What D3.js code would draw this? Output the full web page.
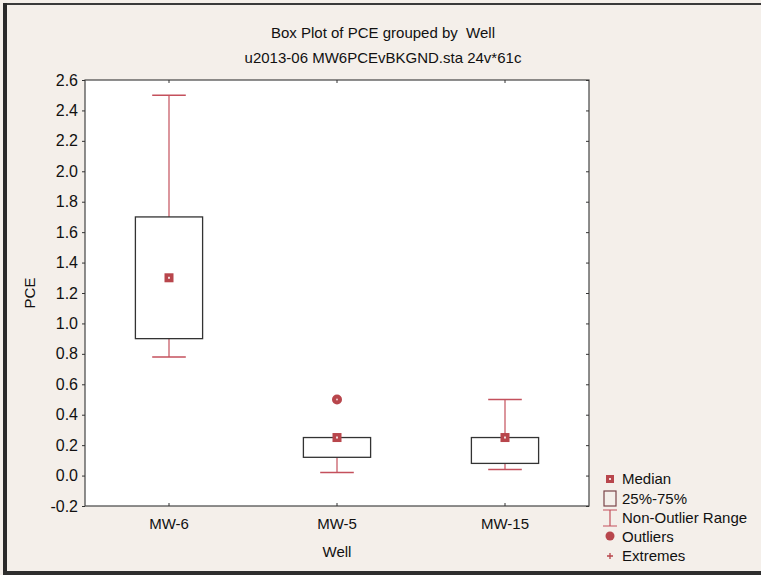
<!DOCTYPE html>
<html>
<head>
<meta charset="utf-8">
<script src="https://cdn.jsdelivr.net/npm/d3@7"></script>
<style>
  html, body { margin: 0; padding: 0; background: #f4efea; }
  svg { display: block; }
  text { font-family: "Liberation Sans", Arial, Helvetica, sans-serif; fill: #111; }
</style>
</head>
<body>
<svg id="chart" width="761" height="575"></svg>
<script>
// Box plot summary per well (PCE)
const wells      = ["MW-6", "MW-5", "MW-15"];
const q1         = [0.90, 0.12, 0.08];
const q3         = [1.70, 0.25, 0.25];
const medians    = [1.30, 0.25, 0.25];
const whiskerLow = [0.78, 0.02, 0.04];
const whiskerHigh= [2.50, 0.25, 0.50];
const outliers   = [[], [0.50], []];
const yTicks     = [-0.2, 0.0, 0.2, 0.4, 0.6, 0.8, 1.0, 1.2, 1.4, 1.6, 1.8, 2.0, 2.2, 2.4, 2.6];
const legendItems= ["Median", "25%-75%", "Non-Outlier Range", "Outliers", "Extremes"];

const W = 761, H = 575;
const plot = { left: 85, right: 589, top: 80, bottom: 506 };
const red = "#b8464c", whiskerRed = "#c4505c";

const svg = d3.select("#chart");

// page frame
svg.append("rect").attr("x", 0).attr("y", 0).attr("width", W).attr("height", H).attr("fill", "#f4efea");
svg.append("rect").attr("x", 3).attr("y", 3).attr("width", W - 3).attr("height", 2).attr("fill", "#3a3a3a");
svg.append("rect").attr("x", 3).attr("y", 3).attr("width", 4).attr("height", H - 3).attr("fill", "#2a2a2a");
svg.append("rect").attr("x", 3).attr("y", 571).attr("width", W - 3).attr("height", 4).attr("fill", "#2e2e2e");

const x = d3.scaleBand().domain(wells).range([plot.left, plot.right]).padding(0);
const y = d3.scaleLinear().domain([-0.2, 2.6]).range([plot.bottom, plot.top]);

// plot area
svg.append("rect")
  .attr("x", plot.left).attr("y", plot.top)
  .attr("width", plot.right - plot.left).attr("height", plot.bottom - plot.top)
  .attr("fill", "#ffffff").attr("stroke", "#444").attr("stroke-width", 1.2);

// axes (plain hyphen for negative values)
const fmt = v => d3.format(".1f")(v).replace("\u2212", "-");
const yAxis = svg.append("g").attr("transform", `translate(${plot.left},0)`)
  .call(d3.axisLeft(y).tickValues(yTicks).tickFormat(fmt).tickSize(3).tickPadding(4));
const yAxisR = svg.append("g").attr("transform", `translate(${plot.right},0)`)
  .call(d3.axisRight(y).tickValues(yTicks).tickFormat("").tickSize(-3));
const xAxis = svg.append("g").attr("transform", `translate(0,${plot.bottom})`)
  .call(d3.axisBottom(x).tickSize(-3).tickPadding(12));
const xAxisT = svg.append("g").attr("transform", `translate(0,${plot.top})`)
  .call(d3.axisTop(x).tickFormat("").tickSize(-3));
[yAxis, yAxisR, xAxis, xAxisT].forEach(g => {
  g.select(".domain").remove();
  g.selectAll(".tick line").attr("stroke", "#333");
  g.selectAll("text").style("font-size", "16px").attr("fill", "#111")
    .style("font-family", "'Liberation Sans', Arial, sans-serif");
});
xAxis.selectAll("text").attr("dy", "0.71em").style("font-size", "15px");

// titles
svg.append("text").attr("x", 383).attr("y", 38).attr("text-anchor", "middle")
  .style("font-size", "15px").style("white-space", "pre").text("Box Plot of PCE grouped by  Well");
svg.append("text").attr("x", 383).attr("y", 63).attr("text-anchor", "middle")
  .style("font-size", "15px").text("u2013-06 MW6PCEvBKGND.sta 24v*61c");
svg.append("text").attr("transform", `translate(35,${(plot.top + plot.bottom) / 2}) rotate(-90)`)
  .attr("text-anchor", "middle").style("font-size", "15px").text("PCE");
svg.append("text").attr("x", x("MW-5") + x.bandwidth() / 2).attr("y", 557)
  .attr("text-anchor", "middle").style("font-size", "15px").text("Well");

// boxes
const boxW = x.bandwidth() * 0.4;
const capW = boxW * 0.5;
const data = wells.map((w, i) => ({
  w, q1: q1[i], q3: q3[i], med: medians[i], lo: whiskerLow[i], hi: whiskerHigh[i], out: outliers[i]
}));
const cx = d => x(d.w) + x.bandwidth() / 2;

const g = svg.append("g");
// whiskers
g.selectAll(".wh-hi").data(data.filter(d => d.hi > d.q3)).join("line")
  .attr("x1", cx).attr("x2", cx).attr("y1", d => y(d.q3)).attr("y2", d => y(d.hi))
  .attr("stroke", whiskerRed).attr("stroke-width", 1.2);
g.selectAll(".cap-hi").data(data.filter(d => d.hi > d.q3)).join("line")
  .attr("x1", d => cx(d) - capW / 2).attr("x2", d => cx(d) + capW / 2)
  .attr("y1", d => y(d.hi)).attr("y2", d => y(d.hi))
  .attr("stroke", whiskerRed).attr("stroke-width", 1.5);
g.selectAll(".wh-lo").data(data).join("line")
  .attr("x1", cx).attr("x2", cx).attr("y1", d => y(d.q1)).attr("y2", d => y(d.lo))
  .attr("stroke", whiskerRed).attr("stroke-width", 1.2);
g.selectAll(".cap-lo").data(data).join("line")
  .attr("x1", d => cx(d) - capW / 2).attr("x2", d => cx(d) + capW / 2)
  .attr("y1", d => y(d.lo)).attr("y2", d => y(d.lo))
  .attr("stroke", whiskerRed).attr("stroke-width", 1.5);
// box
g.selectAll(".box").data(data).join("rect")
  .attr("x", d => cx(d) - boxW / 2).attr("width", boxW)
  .attr("y", d => y(d.q3)).attr("height", d => y(d.q1) - y(d.q3))
  .attr("fill", "#fff").attr("stroke", "#333").attr("stroke-width", 1.3);
// median markers
g.selectAll(".med").data(data).join("rect")
  .attr("x", d => cx(d) - 4.5).attr("y", d => y(d.med) - 4.5)
  .attr("width", 9).attr("height", 9).attr("fill", red);
g.selectAll(".med-dot").data(data).join("rect")
  .attr("x", d => cx(d) - 1).attr("y", d => y(d.med) - 1)
  .attr("width", 2).attr("height", 2).attr("fill", "#f3dcdc");
// outliers
const outPts = data.flatMap(d => d.out.map(v => ({ w: d.w, v })));
g.selectAll(".out").data(outPts).join("circle")
  .attr("cx", cx).attr("cy", d => y(d.v)).attr("r", 5).attr("fill", red);
g.selectAll(".out-dot").data(outPts).join("circle")
  .attr("cx", cx).attr("cy", d => y(d.v)).attr("r", 1).attr("fill", "#f0d0d0");

// legend
const lx = 610, ly = [479, 499, 518, 537, 556];
const lg = svg.append("g");
lg.selectAll("text").data(legendItems).join("text")
  .attr("x", 622).attr("y", (d, i) => ly[i]).attr("dy", "0.35em")
  .style("font-size", "15px").text(d => d);
lg.append("rect").attr("x", lx - 4).attr("y", ly[0] - 4).attr("width", 8).attr("height", 8).attr("fill", red);
lg.append("rect").attr("x", lx - 1).attr("y", ly[0] - 1).attr("width", 2).attr("height", 2).attr("fill", "#f3dcdc");
lg.append("rect").attr("x", lx - 6).attr("y", ly[1] - 8).attr("width", 12).attr("height", 15)
  .attr("fill", "none").attr("stroke", "#7a4448").attr("stroke-width", 1.2);
lg.append("path").attr("d", `M${lx - 7},${ly[2] - 8}H${lx + 7}M${lx},${ly[2] - 8}V${ly[2] + 8}M${lx - 7},${ly[2] + 8}H${lx + 7}`)
  .attr("fill", "none").attr("stroke", whiskerRed).attr("stroke-width", 1.2);
lg.append("circle").attr("cx", lx).attr("cy", ly[3] - 1).attr("r", 4.5).attr("fill", red);
lg.append("path").attr("d", `M${lx - 3},${ly[4]}H${lx + 3}M${lx},${ly[4] - 3}V${ly[4] + 3}`)
  .attr("stroke", red).attr("stroke-width", 1.3);
</script>
</body>
</html>
